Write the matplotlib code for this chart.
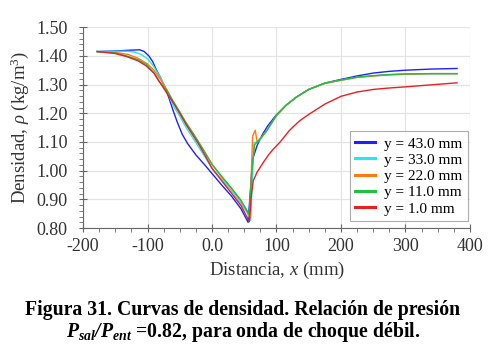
import matplotlib
matplotlib.use('Agg')
import matplotlib.pyplot as plt
from matplotlib.ticker import MultipleLocator
import numpy as np

# perfiles de densidad (x en mm, rho en kg/m3)
x_43 = [-178, -150, -125, -112, -105, -98, -92, -86, -80, -74, -67, -61, -54, -46, -38, -25, -12, 0,
        15, 30, 45, 56, 63, 70, 78, 86, 100, 115, 130, 150, 175, 200, 225, 250, 275, 300, 340, 380]
rho_43 = [1.415, 1.417, 1.420, 1.421, 1.415, 1.400, 1.380, 1.350, 1.325, 1.295, 1.255, 1.214, 1.170,
          1.126, 1.095, 1.055, 1.022, 0.990, 0.950, 0.912, 0.867, 0.820, 1.040, 1.088, 1.125, 1.155,
          1.195, 1.228, 1.255, 1.283, 1.305, 1.318, 1.330, 1.340, 1.346, 1.350, 1.354, 1.356]

x_33 = [-178, -150, -130, -120, -110, -100, -90, -80, -70, -61, -50, -40, -30, -20, -10, 0, 15, 30,
        45, 55, 60, 65, 71, 78, 85, 100, 115, 130, 150, 175, 200, 225, 250, 275, 300, 340, 380]
rho_33 = [1.415, 1.416, 1.416, 1.413, 1.405, 1.390, 1.362, 1.325, 1.280, 1.230, 1.190, 1.150, 1.115,
          1.080, 1.045, 1.008, 0.970, 0.930, 0.885, 0.852, 0.827, 1.098, 1.100, 1.118, 1.140, 1.192,
          1.228, 1.255, 1.283, 1.304, 1.315, 1.325, 1.330, 1.334, 1.336, 1.338, 1.338]

x_22 = [-178, -150, -130, -115, -100, -90, -80, -70, -61, -50, -40, -30, -20, -10, 0, 15, 30, 45,
        55, 58.5, 63, 67, 70, 75, 85, 100, 115, 130, 150, 175, 200, 225, 250, 275, 300, 340, 380]
rho_22 = [1.415, 1.412, 1.405, 1.392, 1.372, 1.350, 1.318, 1.282, 1.243, 1.200, 1.165, 1.130, 1.095,
          1.060, 1.022, 0.978, 0.938, 0.893, 0.858, 0.835, 1.120, 1.141, 1.100, 1.112, 1.140, 1.192,
          1.228, 1.255, 1.283, 1.304, 1.315, 1.325, 1.330, 1.334, 1.336, 1.338, 1.338]

x_11 = [-178, -150, -133, -115, -102, -90, -82, -70, -61, -50, -41, -30, -20, -10, 0, 15, 30, 45,
        57.5, 62, 66, 73, 85, 100, 115, 130, 150, 175, 200, 225, 250, 275, 300, 340, 380]
rho_11 = [1.415, 1.410, 1.400, 1.387, 1.370, 1.340, 1.310, 1.280, 1.245, 1.205, 1.170, 1.133, 1.097,
          1.060, 1.022, 0.980, 0.940, 0.897, 0.847, 1.000, 1.090, 1.106, 1.140, 1.193, 1.228, 1.255,
          1.283, 1.305, 1.316, 1.326, 1.331, 1.335, 1.337, 1.338, 1.338]

x_1 = [-178, -150, -133, -115, -102, -90, -80, -70, -61, -50, -40, -30, -20, -10, 0, 15, 30, 45,
       58, 61, 64, 70, 80, 88, 95, 105, 120, 135, 150, 175, 200, 225, 250, 275, 300, 340, 380]
rho_1 = [1.415, 1.408, 1.398, 1.383, 1.365, 1.340, 1.305, 1.270, 1.240, 1.200, 1.160, 1.125, 1.090,
         1.050, 1.008, 0.965, 0.922, 0.878, 0.822, 0.915, 0.965, 0.995, 1.030, 1.056, 1.075, 1.098,
         1.140, 1.172, 1.196, 1.232, 1.259, 1.274, 1.283, 1.288, 1.292, 1.299, 1.306]

series = [(x_43, rho_43, 'y = 43.0 mm', '#2020ff'),
          (x_33, rho_33, 'y = 33.0 mm', '#22e8f0'),
          (x_22, rho_22, 'y = 22.0 mm', '#ff7a10'),
          (x_11, rho_11, 'y = 11.0 mm', '#20c040'),
          (x_1, rho_1, 'y = 1.0 mm', '#e82020')]

x_ticks = [-200, -100, 0, 100, 200, 300, 400]
x_ticklabels = ['-200', '-100', '0.0', '100', '200', '300', '400']

plt.rcParams['font.family'] = ['Liberation Serif', 'DejaVu Serif']
plt.rcParams['mathtext.fontset'] = 'custom'
plt.rcParams['mathtext.rm'] = 'Liberation Serif'
plt.rcParams['mathtext.it'] = 'Liberation Serif:italic'
plt.rcParams['mathtext.bf'] = 'Liberation Serif:bold:italic'

fig = plt.figure(figsize=(4.98, 3.62), dpi=100)
ax = fig.add_axes([0.1667, 0.370, 0.777, 0.555])

for x, rho, name, col in series:
    ax.plot(x, rho, color=col, lw=1.0, label=name)

ax.set_xlim(-200, 400)
ax.set_ylim(0.80, 1.50)
ax.set_xticks(x_ticks)
ax.set_xticklabels(x_ticklabels)
ax.xaxis.set_minor_locator(MultipleLocator(25))
ax.yaxis.set_major_locator(MultipleLocator(0.1))
ax.yaxis.set_minor_locator(MultipleLocator(0.02))
ax.yaxis.set_major_formatter(matplotlib.ticker.FormatStrFormatter('%.2f'))

ax.grid(True, which='major', color='#e4e4e4', lw=0.9)
ax.set_axisbelow(True)
for s in ['top', 'right']:
    ax.spines[s].set_visible(False)
for s in ['left', 'bottom']:
    ax.spines[s].set_color('#666666')
ax.tick_params(which='major', direction='inout', length=6, width=0.8, color='#666666',
               labelsize=13, labelcolor='#333333')
ax.tick_params(which='minor', direction='out', length=3, width=0.6, color='#666666')
ax.tick_params(axis='x', pad=4)
ax.tick_params(axis='y', pad=8)

ax.set_xlabel('Distancia, $x$ (mm)', fontsize=13.5, color='#333333', labelpad=4)
ax.set_ylabel(r'Densidad, $\rho$ (kg/m$^3$)', fontsize=13.5, color='#333333', labelpad=4)

leg = ax.legend(loc='lower right', fontsize=11, frameon=True, fancybox=False,
                handlelength=1.3, handletextpad=0.6, borderpad=0.35, labelspacing=0.17,
                borderaxespad=0, bbox_to_anchor=(0.995, 0.035))
leg.get_frame().set_edgecolor('#999999')
leg.get_frame().set_linewidth(0.8)
for line in leg.get_lines():
    line.set_linewidth(2.2)

fig.text(0.488, 0.143, 'Figura 31. Curvas de densidad. Relación de presión',
         ha='center', va='center', fontsize=14.2, fontweight='bold')
fig.text(0.488, 0.083, r'$\mathbf{P_{sal}}$$\mathbf{/P_{ent}}$ =0.82, para onda de choque débil.',
         ha='center', va='center', fontsize=14.2, fontweight='bold')

fig.savefig('out.png', dpi=100)
